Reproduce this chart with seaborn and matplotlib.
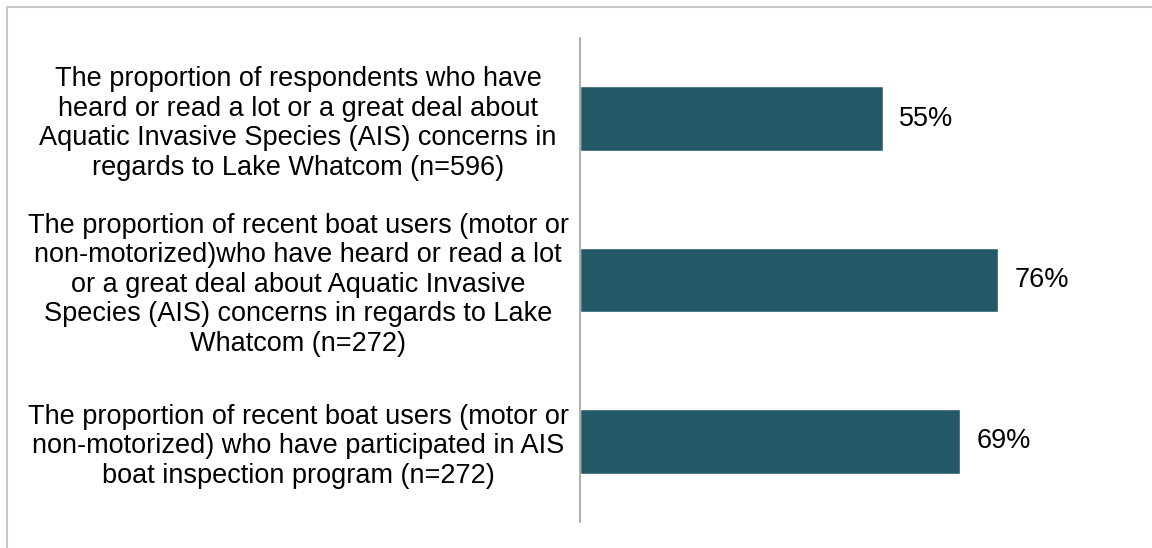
import pandas as pd
import numpy as np
import matplotlib.pyplot as plt
import seaborn as sns
from matplotlib.patches import Rectangle

# dados
labels = [
    "The proportion of respondents who have\nheard or read a lot or a great deal about\nAquatic Invasive Species (AIS) concerns in\nregards to Lake Whatcom (n=596)",
    "The proportion of recent boat users (motor or\nnon-motorized)who have heard or read a lot\nor a great deal about Aquatic Invasive\nSpecies (AIS) concerns in regards to Lake\nWhatcom (n=272)",
    "The proportion of recent boat users (motor or\nnon-motorized) who have participated in AIS\nboat inspection program (n=272)",
]
values = [55, 76, 69]

base = pd.DataFrame({'label': labels, 'pct': values})

sns.set_style('white')
plt.rcParams['font.family'] = ['Liberation Sans', 'DejaVu Sans']

fig = plt.figure(figsize=(11.52, 5.48), dpi=100)
ax = fig.add_axes([580 / 1152, 1 - 522 / 548, 550 / 1152, 484 / 548])

sns.barplot(data=base, x='pct', y='label', color='#245A68', width=0.4,
            saturation=1, ax=ax)

ax.set_xlim(0, 100)
ax.set_xlabel('')
ax.set_ylabel('')
ax.set_xticks([])
for s in ['top', 'right', 'bottom']:
    ax.spines[s].set_visible(False)
ax.spines['left'].set_color('#A6A6A6')
ax.spines['left'].set_linewidth(1.3)

# rotulos centralizados a esquerda do eixo
ax.tick_params(axis='y', length=0, pad=203)
for t in ax.get_yticklabels():
    t.set_ha('center')
    t.set_multialignment('center')
    t.set_fontsize(19.5)
    t.set_linespacing(1.18)
    t.set_color('black')

for i, v in enumerate(values):
    ax.annotate(f'{v}%', (v, i), xytext=(12, 0), textcoords='offset points',
                va='center', ha='left', fontsize=19.5, color='black')

# moldura cinza do grafico
fig.patches.append(Rectangle((7 / 1152, -0.1), 1.2, 1 - 7 / 548 + 0.1,
                             transform=fig.transFigure, fill=False,
                             edgecolor='#C8C8C8', linewidth=1.5))

fig.savefig('out.png', dpi=100)
